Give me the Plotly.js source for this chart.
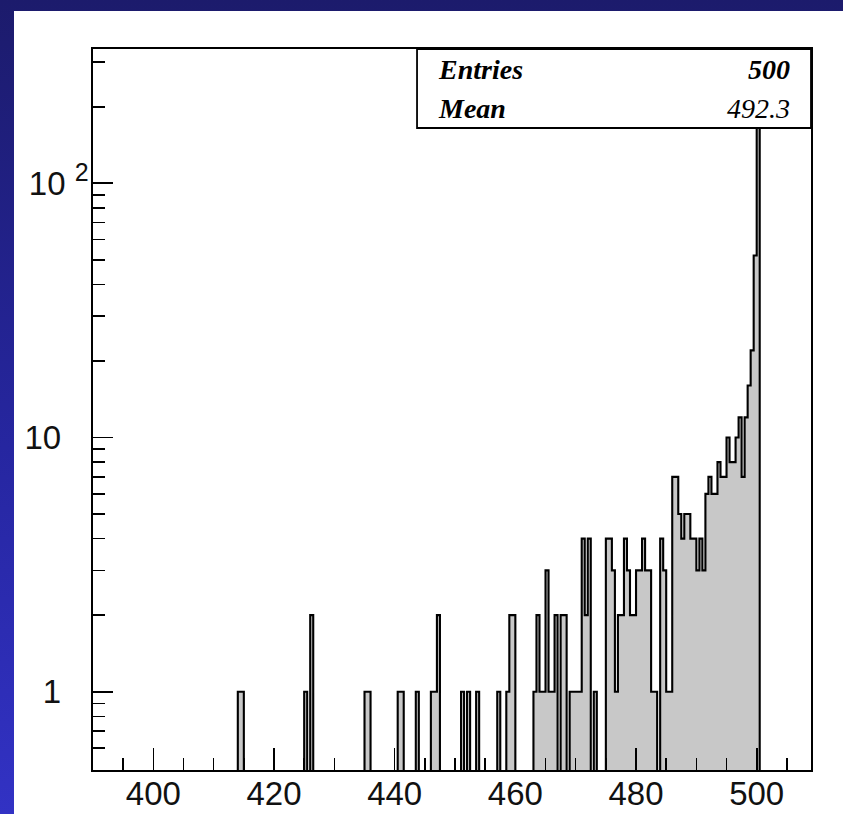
<!DOCTYPE html>
<html>
<head>
<meta charset="utf-8">
<script src="https://cdn.plot.ly/plotly-3.0.1.min.js"></script>
<style>
html,body{margin:0;padding:0;width:843px;height:814px;overflow:hidden;
  background:linear-gradient(to bottom,#1c1b6c 0%,#2626a0 55%,#3232c4 100%);}
#pad{position:absolute;left:14px;top:11px;right:0;bottom:0;background:#ffffff;}
#chart{position:absolute;left:0;top:0;width:843px;height:814px;}
</style>
</head>
<body>
<div id="pad"></div>
<div id="chart"></div>
<script>
// ---- histogram data (lower bin edge, entries); empty bins omitted ----
const histMin = 390, histMax = 509, binWidth = 0.5;
const binLow = [
  414.0, 414.5, 425.0, 426.0, 435.0, 435.5, 440.5, 441.0, 443.5,
  446.0, 446.5, 447.0, 451.0, 452.0, 453.5, 457.0, 458.5, 459.0, 459.5,
  463.0, 463.5, 464.0, 464.5, 465.0, 465.5, 466.0, 466.5, 467.5, 468.0,
  469.0, 469.5, 470.0, 470.5, 471.0, 471.5, 472.0, 473.0,
  475.0, 475.5, 476.0, 476.5, 477.0, 477.5, 478.0, 478.5, 479.0, 479.5,
  480.0, 480.5, 481.0, 481.5, 482.0, 482.5, 483.0, 484.0, 484.5, 485.0, 485.5,
  486.0, 486.5, 487.0, 487.5, 488.0, 488.5, 489.0, 489.5, 490.0, 490.5,
  491.0, 491.5, 492.0, 492.5, 493.0, 493.5, 494.0, 494.5, 495.0, 495.5,
  496.0, 496.5, 497.0, 497.5, 498.0, 498.5, 499.0, 499.5, 500.0
];
const binCount = [
  1, 1, 1, 2, 1, 1, 1, 1, 1,
  1, 1, 2, 1, 1, 1, 1, 1, 2, 2,
  1, 2, 1, 1, 3, 1, 1, 2, 2, 2,
  1, 1, 1, 1, 4, 2, 4, 1,
  4, 4, 3, 1, 2, 2, 4, 3, 2, 2,
  3, 3, 4, 3, 3, 1, 1, 4, 3, 1, 1,
  7, 7, 5, 4, 5, 5, 4, 4, 3, 4,
  3, 6, 7, 6, 6, 8, 7, 7, 10, 8,
  8, 10, 12, 7, 12, 16, 22, 52, 167
];
const statLabels = ['Entries', 'Mean'];
const statValues = ['500', '492.3'];
const yTickVals = [1, 10, 100];
const yTickText = ['1\u00a0\u00a0\u00a0', '10\u00a0\u00a0\u00a0', '10\u00a0<sup><span style="font-size:25px">2</span></sup>'];
const yMinorVals = [0.6,0.7,0.8,0.9,2,3,4,5,6,7,8,9,20,30,40,50,60,70,80,90,200,300];

// ---- build the histogram outline from the bins ----
const nb = Math.round((histMax - histMin) / binWidth);
const counts = new Array(nb).fill(0);
binLow.forEach((b, i) => { counts[Math.round((b - histMin) / binWidth)] = binCount[i]; });
const floorVal = 1e-3;
const xs = [histMin], ys = [floorVal];
for (let i = 0; i < nb; i++) {
  const x0 = histMin + i * binWidth, x1 = x0 + binWidth;
  const c = counts[i] > 0 ? counts[i] : floorVal;
  xs.push(x0, x1); ys.push(c, c);
}
xs.push(histMax); ys.push(floorVal);

const trace = {
  x: xs, y: ys, type: 'scatter', mode: 'lines',
  line: {color: '#000000', width: 2.1, shape: 'linear'},
  fill: 'toself', fillcolor: '#c8c8c8',
  hoverinfo: 'skip', showlegend: false
};

const boxL = 0.4513, boxB = 0.8904;
const layout = {
  width: 843, height: 814,
  margin: {l: 93, r: 32, t: 49, b: 44, pad: 0},
  paper_bgcolor: 'rgba(0,0,0,0)', plot_bgcolor: '#ffffff',
  font: {family: '"Liberation Sans", Arial, Helvetica, sans-serif', color: '#111'},
  showlegend: false,
  xaxis: {
    range: [histMin, histMax], tickmode: 'linear', tick0: 400, dtick: 20,
    ticks: 'inside', ticklen: 22, tickwidth: 1.6, tickcolor: '#000',
    showline: true, linecolor: '#000', linewidth: 1.8, mirror: true,
    showgrid: false, zeroline: false, ticklabelstandoff: -6,
    tickfont: {size: 33, color: '#111'},
    minor: {tick0: 0, dtick: 5, ticks: 'inside', ticklen: 12, tickwidth: 1.6, tickcolor: '#000', showgrid: false}
  },
  yaxis: {
    type: 'log', range: [-0.308, 2.528],
    tickmode: 'array', tickvals: yTickVals, ticktext: yTickText,
    ticks: 'inside', ticklen: 20, tickwidth: 1.6, tickcolor: '#000',
    showline: true, linecolor: '#000', linewidth: 1.8, mirror: true,
    showgrid: false, zeroline: false, ticklabelstandoff: -4,
    tickfont: {size: 33, color: '#111'},
    minor: {tickmode: 'array', tickvals: yMinorVals, ticks: 'inside', ticklen: 12, tickwidth: 1.6, tickcolor: '#000', showgrid: false}
  },
  shapes: [{
    type: 'rect', xref: 'paper', yref: 'paper', x0: boxL, x1: 1, y0: boxB, y1: 1,
    line: {color: '#000', width: 1.8}, fillcolor: '#ffffff', layer: 'above'
  }],
  annotations: []
};
const rowY = [0.9709, 0.9168];
const statFont = {family: '"Liberation Serif", "Times New Roman", serif', size: 28, color: '#000'};
statLabels.forEach((lab, i) => {
  layout.annotations.push({xref: 'paper', yref: 'paper', x: 0.478, y: rowY[i], xanchor: 'left', yanchor: 'middle',
    text: '<b><i>' + lab + '</i></b>', showarrow: false, font: statFont});
  const v = i === 0 ? '<b><i>' + statValues[i] + '</i></b>' : '<i>' + statValues[i] + '</i>';
  layout.annotations.push({xref: 'paper', yref: 'paper', x: 0.9736, y: rowY[i], xanchor: 'right', yanchor: 'middle',
    text: v, showarrow: false, font: statFont});
});

Plotly.newPlot('chart', [trace], layout, {displayModeBar: false, staticPlot: true});
</script>
</body>
</html>
